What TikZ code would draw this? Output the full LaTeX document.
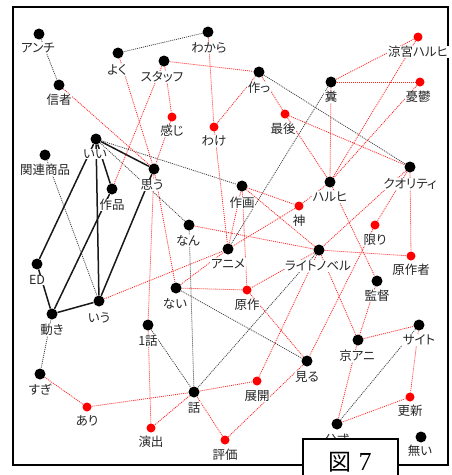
\documentclass[tikz,border=0pt]{standalone}
\usepackage{fontspec}
\newfontfamily\jp[RawFeature=+palt]{Noto Sans CJK JP}
\newfontfamily\ser{Liberation Serif}
\usetikzlibrary{backgrounds}
\begin{document}
\begin{tikzpicture}[x=1pt,y=-1pt,
  bd/.style={circle,fill=black,inner sep=0pt,minimum size=11pt},
  rd/.style={circle,fill=red,inner sep=0pt,minimum size=9pt},
  lab/.style={fill=white,inner sep=0.6pt,font=\jp\fontsize{12.5}{13}\selectfont,text=black!85},
  thk/.style={line width=1.5pt,black!90},
  gd/.style={line width=0.8pt,black!75,dash pattern=on 1pt off 1pt},
  rdl/.style={line width=0.8pt,red!85,dash pattern=on 1pt off 1pt}]
\useasboundingbox (0,0) rectangle (451,475);
% nodes: dot + label
\newcommand{\nd}[6]{\node[#1] (#2) at (#3) {}; \node[lab] (#2-l) at (#4) {#5};}
\nd{bd}{anchi}{39,34}{38,48}{アンチ}{}
\nd{bd}{yoku}{118,53}{117,70}{よく}{}
\nd{bd}{wakara}{208,32}{209,48}{わから}{}
\nd{bd}{staff}{164,61}{162,77}{スタッフ}{}
\nd{bd}{shinja}{59,85}{59,100}{信者}{}
\nd{rd}{kanji}{172,117}{172,131}{感じ}{}
\nd{rd}{wake}{214,127}{214,141}{わけ}{}
\nd{bd}{tsuku}{259,72}{259,88}{作っ}{}
\nd{bd}{kuso}{331,82}{331,97}{糞}{}
\nd{rd}{suzumiya}{418,37}{418,52}{涼宮ハルヒ}{}
\nd{rd}{yuutsu}{420,82}{418,97}{憂鬱}{}
\nd{rd}{saigo}{285,114}{283,129}{最後}{}
\nd{bd}{ii}{96,139}{95,154}{いい}{}
\nd{bd}{kanren}{45,155}{45,170}{関連商品}{}
\nd{bd}{omou}{154,169}{152,185}{思う}{}
\nd{bd}{sakuhin}{112,189}{112,205}{作品}{}
\nd{bd}{sakuga}{242,186}{242,203}{作画}{}
\nd{bd}{haruhi}{330,182}{330,197}{ハルヒ}{}
\nd{bd}{quality}{410,167}{410,184}{クオリティ}{}
\nd{rd}{kami}{299,206}{299,221}{神}{}
\nd{bd}{nan}{189,225}{188,241}{なん}{}
\nd{bd}{anime}{228,249}{228,264}{アニメ}{}
\nd{rd}{kagiri}{375,225}{375,240}{限り}{}
\nd{bd}{ln}{319,250}{318,266}{ライトノベル}{}
\nd{rd}{gensakusha}{411,256}{411,270}{原作者}{}
\nd{bd}{ed}{37,264}{37,280}{ED}{}
\nd{bd}{nai}{176,288}{175,304}{ない}{}
\nd{rd}{gensaku}{247,290}{247,305}{原作}{}
\nd{bd}{kantoku}{377,281}{377,296}{監督}{}
\nd{bd}{iu}{99,301}{99,318}{いう}{}
\nd{bd}{ugoki}{52,314}{52,330}{動き}{}
\nd{bd}{ichiwa}{148,325}{148,341}{1話}{}
\nd{bd}{site}{419,325}{419,340}{サイト}{}
\nd{bd}{kyoani}{358,340}{357,356}{京アニ}{}
\nd{bd}{miru}{307,361}{307,377}{見る}{}
\nd{bd}{sugi}{40,374}{40,390}{すぎ}{}
\nd{rd}{tenkai}{257,381}{257,396}{展開}{}
\nd{bd}{hanashi}{194,392}{194,408}{話}{}
\nd{rd}{koushin}{410,397}{410,411}{更新}{}
\nd{rd}{ari}{87,407}{87,421}{あり}{}
\nd{rd}{enshutsu}{151,428}{151,442}{演出}{}
\nd{bd}{koushiki}{337,424}{337,440}{公式}{}
\nd{bd}{nai2}{421,437}{420,451}{無い}{}
\nd{rd}{hyouka}{225,440}{225,455}{評価}{}
\begin{pgfonlayer}{background}
\fill[white] (0,0) rectangle (451,475);
\draw[line width=2pt] (13,7) rectangle (448,465);
% thick
\draw[thk] (ii) -- (omou);
\draw[thk] (ii) -- (sakuhin);
\draw[thk] (ii) -- (iu);
\draw[thk] (ii) -- (ed);
\draw[thk] (sakuhin) -- (ugoki);
\draw[thk] (ed) -- (ugoki);
\draw[thk] (ugoki) -- (iu);
\draw[thk] (omou) -- (iu);
% gray dotted
\draw[gd] (yoku) -- (wakara);
\draw[gd] (anchi) -- (shinja);
\draw[gd] (ii) -- (sakuga);
\draw[gd] (ii) -- (nan);
\draw[gd] (kanren) -- (iu);
\draw[gd] (ugoki) -- (sugi);
\draw[gd] (tsuku) -- (quality);
\draw[gd] (kuso) -- (anime);
\draw[gd] (ln) -- (hanashi);
\draw[gd] (ichiwa) -- (hanashi);
\draw[gd] (nan) -- (hanashi);
\draw[gd] (nai) -- (miru);
\draw[gd] (site) -- (koushiki);
% red dotted
\draw[rdl] (wakara) -- (wake);
\draw[rdl] (wake) -- (anime);
\draw[rdl] (wake) -- (tsuku);
\draw[rdl] (staff) -- (tsuku);
\draw[rdl] (staff) -- (kanji);
\draw[rdl] (staff) -- (sakuhin);
\draw[rdl] (kanji) -- (omou);
\draw[rdl] (shinja) -- (omou);
\draw[rdl] (yoku) -- (omou);
\draw[rdl] (tsuku) -- (saigo);
\draw[rdl] (saigo) -- (haruhi);
\draw[rdl] (saigo) -- (quality);
\draw[rdl] (kuso) -- (suzumiya);
\draw[rdl] (kuso) -- (yuutsu);
\draw[rdl] (kuso) -- (haruhi);
\draw[rdl] (suzumiya) -- (haruhi);
\draw[rdl] (yuutsu) -- (haruhi);
\draw[rdl] (omou) -- (ichiwa);
\draw[rdl] (omou) -- (nai);
\draw[rdl] (sakuga) -- (anime);
\draw[rdl] (sakuga) -- (kami);
\draw[rdl] (sakuga) -- (gensaku);
\draw[rdl] (sakuga) -- (ln);
\draw[rdl] (kami) -- (haruhi);
\draw[rdl] (kami) -- (anime);
\draw[rdl] (quality) -- (kagiri);
\draw[rdl] (quality) -- (gensakusha);
\draw[rdl] (quality) -- (ln);
\draw[rdl] (nan) -- (ln);
\draw[rdl] (ln) -- (gensakusha);
\draw[rdl] (ln) -- (gensaku);
\draw[rdl] (ln) -- (tenkai);
\draw[rdl] (ln) -- (kyoani);
\draw[rdl] (haruhi) -- (kantoku);
\draw[rdl] (kantoku) -- (kyoani);
\draw[rdl] (kyoani) -- (site);
\draw[rdl] (kyoani) -- (koushiki);
\draw[rdl] (site) -- (koushin);
\draw[rdl] (koushin) -- (koushiki);
\draw[rdl] (kagiri) -- (miru);
\draw[rdl] (gensaku) -- (miru);
\draw[rdl] (gensaku) -- (nai);
\draw[rdl] (nai) -- (anime);
\draw[rdl] (iu) -- (anime);
\draw[rdl] (hyouka) -- (miru);
\draw[rdl] (hanashi) -- (hyouka);
\draw[rdl] (hanashi) -- (enshutsu);
\draw[rdl] (hanashi) -- (tenkai);
\draw[rdl] (ari) -- (hanashi);
\draw[rdl] (sugi) -- (ari);
\draw[rdl] (ichiwa) -- (enshutsu);
\end{pgfonlayer}
% figure caption box
\fill[white] (303,439) rectangle (398,476);
\draw[line width=2pt] (303,477) -- (303,439) -- (398,439) -- (398,477);
\node[inner sep=0pt] (cap) at (350,462) {{\jp\fontsize{23}{24}\selectfont 図}\hspace{7pt}{\ser\fontsize{26}{26}\selectfont 7}};
\end{tikzpicture}
\end{document}
